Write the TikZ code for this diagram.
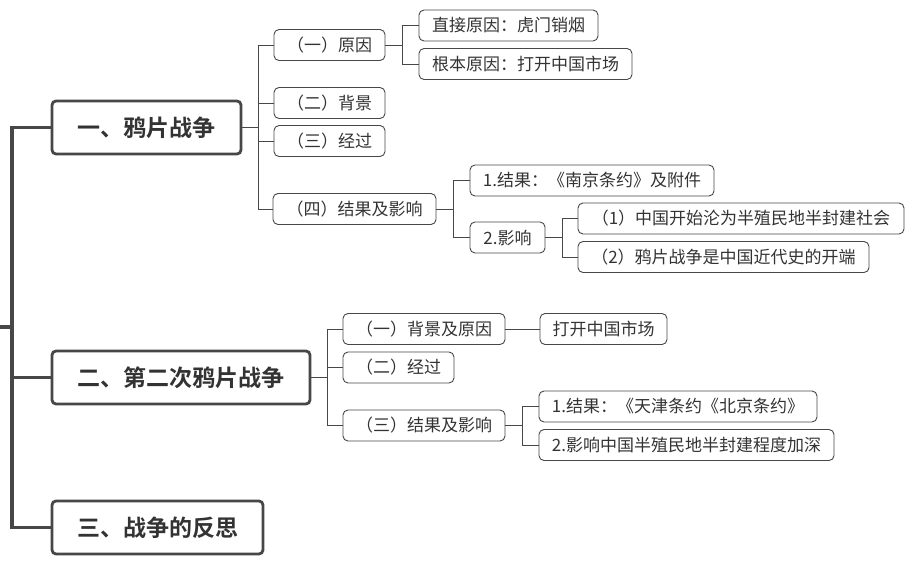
\documentclass[tikz,border=0pt]{standalone}
\usepackage{fontspec}
\setmainfont{Noto Sans CJK SC}[BoldFont={* Bold}]
\definecolor{lnc}{HTML}{474747}
\definecolor{txc}{HTML}{333333}
\tikzset{
  topbox/.style={draw=lnc, line width=2.8pt, rounded corners=4pt, inner sep=0pt,
    minimum height=53pt, text=txc, font=\fontsize{23}{26}\selectfont\bfseries},
  subbox/.style={draw=lnc, line width=0.9pt, rounded corners=5pt, inner sep=0pt,
    minimum height=31pt, text=txc, font=\fontsize{17}{20}\selectfont},
  thick link/.style={draw=lnc, line width=3.6pt},
  thin link/.style={draw=lnc, line width=1pt},
}
\begin{document}
\begin{tikzpicture}[x=1pt,y=-1pt]
\useasboundingbox (0,0) rectangle (911,562);
% top level
\node[topbox, minimum width=189pt] (A) at (146.5,127.5) {一、鸦片战争};
\node[topbox, minimum width=258pt] (B) at (181,377.5) {二、第二次鸦片战争};
\node[topbox, minimum width=211pt] (C) at (157.5,527.5) {三、战争的反思};
\coordinate (rootL) at (0,327);
\coordinate (rootT) at (12,327);
\draw[thick link] (rootL) -- (rootT);
\draw[thick link] (A.west) -| (rootT);
\draw[thick link] (B.west) -| (rootT);
\draw[thick link] (C.west) -| (rootT);
% A children
\node[subbox, minimum width=111pt] (a1) at (329.5,45) {（一）原因};
\node[subbox, minimum width=111pt] (a2) at (329.5,103) {（二）背景};
\node[subbox, minimum width=111pt] (a3) at (329.5,141) {（三）经过};
\node[subbox, minimum width=163pt] (a4) at (354.5,209) {（四）结果及影响};
\foreach \c in {a1,a2,a3,a4} \draw[thin link] (A.east) -- ++(16,0) |- (\c.west);
% a1 children
\node[subbox, minimum width=179pt] (a11) at (508.5,25.5) {直接原因：虎门销烟};
\node[subbox, minimum width=213pt] (a12) at (525.5,64) {根本原因：打开中国市场};
\foreach \c in {a11,a12} \draw[thin link] (a1.east) -- ++(17,0) |- (\c.west);
% a4 children
\node[subbox, minimum width=244pt] (a41) at (592,180.5) {1.结果：《南京条约》及附件};
\node[subbox, minimum width=75pt] (a42) at (507.5,237.5) {2.影响};
\foreach \c in {a41,a42} \draw[thin link] (a4.east) -- ++(17,0) |- (\c.west);
% a42 children
\node[subbox, minimum width=326pt] (a421) at (741,218.5) {（1）中国开始沦为半殖民地半封建社会};
\node[subbox, minimum width=291pt] (a422) at (723.5,257) {（2）鸦片战争是中国近代史的开端};
\foreach \c in {a421,a422} \draw[thin link] (a42.east) -- ++(17,0) |- (\c.west);
% B children
\node[subbox, minimum width=162pt] (b1) at (424,329) {（一）背景及原因};
\node[subbox, minimum width=111pt] (b2) at (398.5,367.5) {（二）经过};
\node[subbox, minimum width=162pt] (b3) at (424,425.5) {（三）结果及影响};
\foreach \c in {b1,b2,b3} \draw[thin link] (B.east) -- ++(16,0) |- (\c.west);
% b1 child
\node[subbox, minimum width=127pt] (b11) at (603.5,329) {打开中国市场};
\draw[thin link] (b1.east) -- (b11.west);
% b3 children
\node[subbox, minimum width=278pt] (b31) at (678,406.5) {1.结果：《天津条约《北京条约》};
\node[subbox, minimum width=295pt] (b32) at (686.5,445) {2.影响中国半殖民地半封建程度加深};
\foreach \c in {b31,b32} \draw[thin link] (b3.east) -- ++(17,0) |- (\c.west);
\end{tikzpicture}
\end{document}
